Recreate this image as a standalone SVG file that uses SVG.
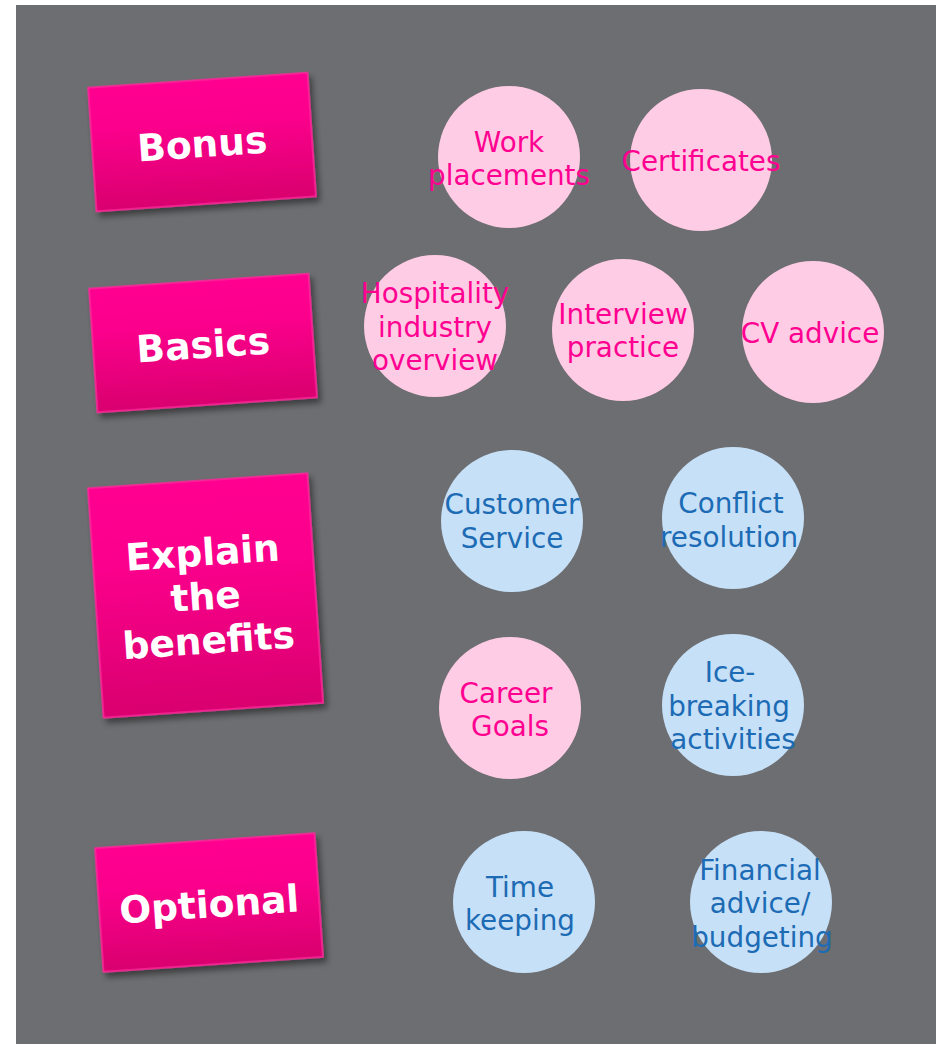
<svg xmlns="http://www.w3.org/2000/svg" width="936" height="1044" viewBox="0 0 936 1044">
  <defs>
    <linearGradient id="boxGrad" x1="0" y1="0" x2="0" y2="1">
      <stop offset="0" stop-color="#ff0090"/>
      <stop offset="0.35" stop-color="#fb008c"/>
      <stop offset="1" stop-color="#d9006e"/>
    </linearGradient>
    <filter id="shadow" x="-20%" y="-20%" width="140%" height="140%">
      <feDropShadow dx="3" dy="5" stdDeviation="3" flood-color="#000" flood-opacity="0.45"/>
    </filter>
  </defs>
  <style>
    .box { fill: url(#boxGrad); stroke: #ff2a9c; stroke-width: 1.5; filter: url(#shadow); }
    .boxText { font-family: "DejaVu Sans", Verdana, sans-serif; font-weight: bold; font-size: 37.5px; fill: #ffffff; text-anchor: middle; }
    .pink { fill: #ffcce6; }
    .blue { fill: #c6e0f8; }
    .ct { font-family: "DejaVu Sans", Verdana, sans-serif; font-size: 27.8px; text-anchor: middle; }
    .ptxt { fill: #ff0090; }
    .btxt { fill: #1c6bb4; }
  </style>
  <rect x="0" y="0" width="936" height="1044" fill="#ffffff"/>
  <rect x="16" y="5" width="920" height="1039" fill="#6d6e71"/>

  <g id="connectors"></g>

  <g id="bonus" transform="translate(202,142) rotate(-3.9)">
    <rect class="box" x="-110" y="-62" width="220" height="124"/>
    <text class="boxText" x="0" y="15">Bonus</text>
  </g>
  <g id="basics" transform="translate(203,343) rotate(-3.9)">
    <rect class="box" x="-110" y="-62" width="220" height="124"/>
    <text class="boxText" x="0" y="15">Basics</text>
  </g>
  <g id="explain" transform="translate(205.5,595.5) rotate(-3.9)">
    <rect class="box" x="-110" y="-115" width="220" height="230"/>
    <text class="boxText" x="0" y="-30">Explain</text>
    <text class="boxText" x="0" y="14">the</text>
    <text class="boxText" x="0" y="58">benefits</text>
  </g>
  <g id="optional" transform="translate(209,902.5) rotate(-3.9)">
    <rect class="box" x="-110" y="-62" width="220" height="124"/>
    <text class="boxText" x="0" y="15">Optional</text>
  </g>

  <g id="work-placements">
    <circle class="pink" cx="509" cy="157" r="71"/>
    <text class="ct ptxt" x="509" y="152">Work</text>
    <text class="ct ptxt" x="509" y="185">placements</text>
  </g>
  <g id="certificates">
    <circle class="pink" cx="701" cy="160" r="71"/>
    <text class="ct ptxt" x="701" y="171">Certificates</text>
  </g>
  <g id="hospitality">
    <circle class="pink" cx="435" cy="326" r="71"/>
    <text class="ct ptxt" x="435" y="303">Hospitality</text>
    <text class="ct ptxt" x="435" y="337">industry</text>
    <text class="ct ptxt" x="435" y="370">overview</text>
  </g>
  <g id="interview">
    <circle class="pink" cx="623" cy="330" r="71"/>
    <text class="ct ptxt" x="623" y="324">Interview</text>
    <text class="ct ptxt" x="623" y="357">practice</text>
  </g>
  <g id="cv-advice">
    <circle class="pink" cx="813" cy="332" r="71"/>
    <text class="ct ptxt" x="810" y="343">CV advice</text>
  </g>
  <g id="customer-service">
    <circle class="blue" cx="512" cy="521" r="71"/>
    <text class="ct btxt" x="512" y="514">Customer</text>
    <text class="ct btxt" x="512" y="548">Service</text>
  </g>
  <g id="conflict-resolution">
    <circle class="blue" cx="733" cy="518" r="71"/>
    <text class="ct btxt" x="731" y="513">Conflict</text>
    <text class="ct btxt" x="729" y="547">resolution</text>
  </g>
  <g id="career-goals">
    <circle class="pink" cx="510" cy="708" r="71"/>
    <text class="ct ptxt" x="506" y="703">Career</text>
    <text class="ct ptxt" x="510" y="736">Goals</text>
  </g>
  <g id="ice-breaking">
    <circle class="blue" cx="733" cy="705" r="71"/>
    <text class="ct btxt" x="730" y="682">Ice-</text>
    <text class="ct btxt" x="729" y="716">breaking</text>
    <text class="ct btxt" x="733" y="749">activities</text>
  </g>
  <g id="time-keeping">
    <circle class="blue" cx="524" cy="902" r="71"/>
    <text class="ct btxt" x="520" y="897">Time</text>
    <text class="ct btxt" x="520" y="930">keeping</text>
  </g>
  <g id="financial-advice">
    <circle class="blue" cx="761" cy="902" r="71"/>
    <text class="ct btxt" x="760" y="880">Financial</text>
    <text class="ct btxt" x="760" y="913">advice/</text>
    <text class="ct btxt" x="762" y="947">budgeting</text>
  </g>
</svg>
